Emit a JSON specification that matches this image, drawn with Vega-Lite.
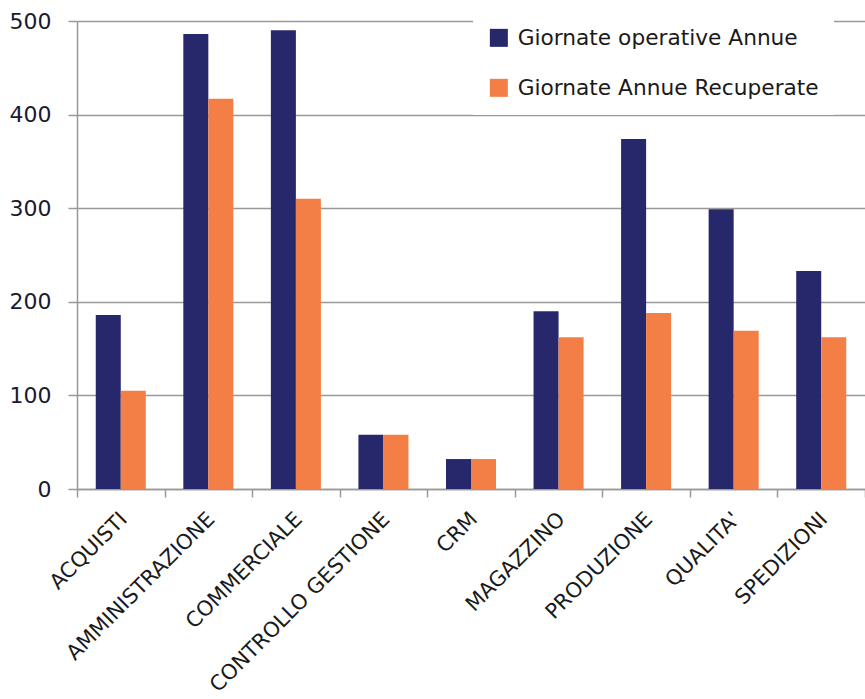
{
  "$schema": "https://vega.github.io/schema/vega-lite/v6.json",
  "width": 788,
  "height": 468,
  "autosize": "none",
  "padding": {"left": 77, "top": 21, "right": 0, "bottom": 210},
  "background": "white",
  "config": {
    "view": {"stroke": null},
    "font": "DejaVu Sans"
  },
  "data": {
    "values": [
      {"reparto": "ACQUISTI", "serie": "Giornate operative Annue", "giorni": 186},
      {"reparto": "ACQUISTI", "serie": "Giornate Annue Recuperate", "giorni": 105},
      {"reparto": "AMMINISTRAZIONE", "serie": "Giornate operative Annue", "giorni": 486},
      {"reparto": "AMMINISTRAZIONE", "serie": "Giornate Annue Recuperate", "giorni": 417},
      {"reparto": "COMMERCIALE", "serie": "Giornate operative Annue", "giorni": 490},
      {"reparto": "COMMERCIALE", "serie": "Giornate Annue Recuperate", "giorni": 310},
      {"reparto": "CONTROLLO GESTIONE", "serie": "Giornate operative Annue", "giorni": 58},
      {"reparto": "CONTROLLO GESTIONE", "serie": "Giornate Annue Recuperate", "giorni": 58},
      {"reparto": "CRM", "serie": "Giornate operative Annue", "giorni": 32},
      {"reparto": "CRM", "serie": "Giornate Annue Recuperate", "giorni": 32},
      {"reparto": "MAGAZZINO", "serie": "Giornate operative Annue", "giorni": 190},
      {"reparto": "MAGAZZINO", "serie": "Giornate Annue Recuperate", "giorni": 162},
      {"reparto": "PRODUZIONE", "serie": "Giornate operative Annue", "giorni": 374},
      {"reparto": "PRODUZIONE", "serie": "Giornate Annue Recuperate", "giorni": 188},
      {"reparto": "QUALITA'", "serie": "Giornate operative Annue", "giorni": 299},
      {"reparto": "QUALITA'", "serie": "Giornate Annue Recuperate", "giorni": 169},
      {"reparto": "SPEDIZIONI", "serie": "Giornate operative Annue", "giorni": 233},
      {"reparto": "SPEDIZIONI", "serie": "Giornate Annue Recuperate", "giorni": 162}
    ]
  },
  "mark": {"type": "bar"},
  "encoding": {
    "x": {
      "field": "reparto",
      "type": "nominal",
      "sort": null,
      "title": null,
      "scale": {"paddingInner": 0, "paddingOuter": 0},
      "axis": {
        "labelAngle": -45,
        "labelFontSize": 21,
        "labelColor": "#1a1a1a",
        "labelPadding": 11,
        "labelOffset": -5,
        "labelLimit": 400,
        "tickBand": "extent",
        "tickSize": 8,
        "tickColor": "#999999",
        "tickWidth": 1.5,
        "domainColor": "#999999",
        "domainWidth": 1.5,
        "grid": false
      }
    },
    "xOffset": {
      "field": "serie",
      "type": "nominal",
      "sort": ["Giornate operative Annue", "Giornate Annue Recuperate"],
      "scale": {"paddingInner": 0, "paddingOuter": 0.75}
    },
    "y": {
      "field": "giorni",
      "type": "quantitative",
      "title": null,
      "scale": {"domain": [0, 500], "nice": false},
      "axis": {
        "values": [0, 100, 200, 300, 400, 500],
        "labelFontSize": 22,
        "labelColor": "#1a1a2e",
        "labelPadding": 17,
        "tickSize": 9,
        "tickColor": "#999999",
        "tickWidth": 1.5,
        "domainColor": "#999999",
        "domainWidth": 1.5,
        "gridColor": "#999999",
        "gridWidth": 1.5,
        "gridOpacity": 1
      }
    },
    "color": {
      "field": "serie",
      "type": "nominal",
      "sort": ["Giornate operative Annue", "Giornate Annue Recuperate"],
      "scale": {
        "domain": ["Giornate operative Annue", "Giornate Annue Recuperate"],
        "range": ["#27276b", "#f47f46"]
      },
      "legend": {
        "title": null,
        "orient": "none",
        "legendX": 396,
        "legendY": -9,
        "fillColor": "white",
        "padding": 15,
        "symbolType": "square",
        "symbolSize": 324,
        "symbolStrokeWidth": 0,
        "labelFontSize": 21.7,
        "labelColor": "#1a1a1a",
        "labelOffset": 8,
        "rowPadding": 27,
        "labelLimit": 400
      }
    }
  }
}
